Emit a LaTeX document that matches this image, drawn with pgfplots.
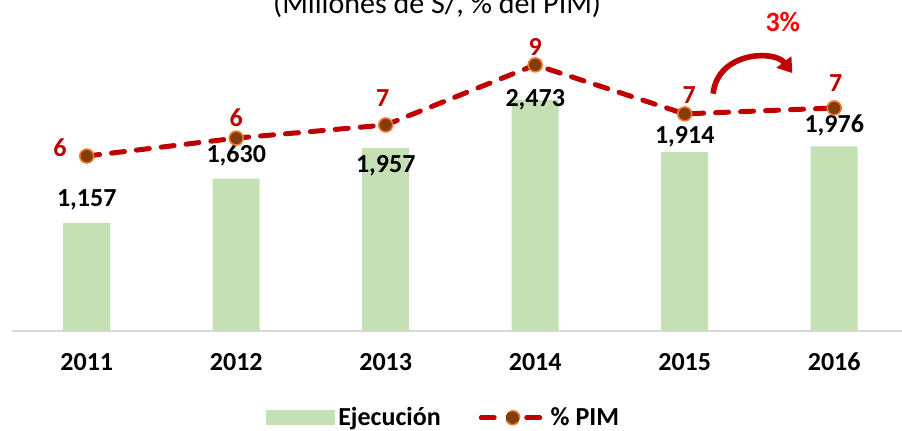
\documentclass[border=0pt]{standalone}
\usepackage{pgfplots}
\pgfplotsset{compat=1.18}
\usepackage{pgfplotstable}
\usepackage{fontspec}
\setmainfont{Carlito}
\usetikzlibrary{arrows.meta}
\definecolor{bargreen}{HTML}{C5E0B4}
\definecolor{linered}{HTML}{C00000}
\definecolor{mkfill}{HTML}{843C0C}
\definecolor{mkedge}{HTML}{ED7D31}
\definecolor{axgray}{HTML}{D9D9D9}
\newcommand{\lblfont}{\bfseries\fontsize{13}{15}\selectfont}

\pgfplotstableread{
x y
0 1157
1 1630
2 1957
3 2473
4 1914
5 1976
}\ejec
\pgfplotstableread{
x y label
0 1402 {1,157}
1 1884 {1,630}
2 1766 {1,957}
3 2472 {2,473}
4 2076 {1,914}
5 2205 {1,976}
}\ejeclbl
\pgfplotstableread{
x y
0 5.85
1 6.45
2 6.89
3 8.90
4 7.26
5 7.46
}\pim
\pgfplotstableread{
x y label
-0.18 6.12 6
1.00 7.12 6
1.98 7.79 7
3.00 9.50 9
4.03 7.89 7
5.01 8.29 7
}\pimlbl

\begin{document}
\begin{tikzpicture}
\pgfplotsset{
  common/.style={width=444.75pt,height=149.5pt,scale only axis,
    xmin=-0.5,xmax=5.45,clip=false},
}
\begin{axis}[common,
  ymin=0,ymax=3200,
  axis y line=none,
  axis x line*=bottom,
  x axis line style={draw=axgray,line width=0.8pt,-},
  xtick={0,1,2,3,4,5},
  xticklabels={2011,2012,2013,2014,2015,2016},
  major tick length=0pt,
  ytick=\empty,
  xticklabel style={font=\lblfont, yshift=-7.5pt},
]
\addplot[ybar, bar width=23.5pt, fill=bargreen, draw=none] table[x=x,y=y] {\ejec};
\addplot[only marks, mark=none, nodes near coords, point meta=explicit symbolic,
  every node near coord/.style={anchor=center, font=\lblfont, text=black}]
  table[x=x,y=y,meta=label] {\ejeclbl};
\node[font=\fontsize{15}{18}\selectfont, anchor=base] at (rel axis cs:0.478,1.0635) {(Millones de S/, \% del PIM)};
\draw[linered, line width=2.8pt, -{Triangle[length=7pt,width=9pt]}]
  (axis cs:4.19,2540) .. controls (axis cs:4.22,2990) and (axis cs:4.60,3010) .. (axis cs:4.72,2760);
\node[text=red, font=\bfseries\fontsize{14}{16}\selectfont] at (axis cs:4.656,3307) {3\%};
\end{axis}

\begin{axis}[common,
  ymin=0,ymax=10,
  axis lines=none,
  ticks=none,
  legend columns=2,
  legend style={at={(0.486,-0.290)}, anchor=center, draw=none, fill=none,
    font=\lblfont,
    /tikz/every even column/.append style={column sep=17pt}},
]
\addlegendimage{legend image code/.code={\fill[bargreen] (-4pt,-3.5pt) rectangle (30pt,3.5pt);}}
\addplot[linered, line width=2.5pt, line cap=round, dash pattern=on 6.5pt off 6pt,
  mark=*, mark size=3.5pt, mark options={solid, fill=mkfill, draw=mkedge, line width=0.8pt},
  legend image code/.code={
    \draw[linered, line width=2.5pt, line cap=round] (-2.75pt,0pt) -- (6pt,0pt);
    \draw[linered, line width=2.5pt, line cap=round] (20pt,0pt) -- (28.75pt,0pt);
    \draw[mkedge, fill=mkfill, line width=0.8pt] (13pt,0pt) circle (3.5pt);
  }] table[x=x,y=y] {\pim};
\addplot[only marks, mark=none, nodes near coords, point meta=explicit symbolic,
  every node near coord/.style={anchor=center, font=\lblfont, text=linered},
  forget plot]
  table[x=x,y=y,meta=label] {\pimlbl};
\legend{Ejecución, \% PIM}
\end{axis}
\pgfresetboundingbox
\path[use as bounding box] (-6pt,-50pt) rectangle (445pt,165.5pt);
\end{tikzpicture}
\end{document}
